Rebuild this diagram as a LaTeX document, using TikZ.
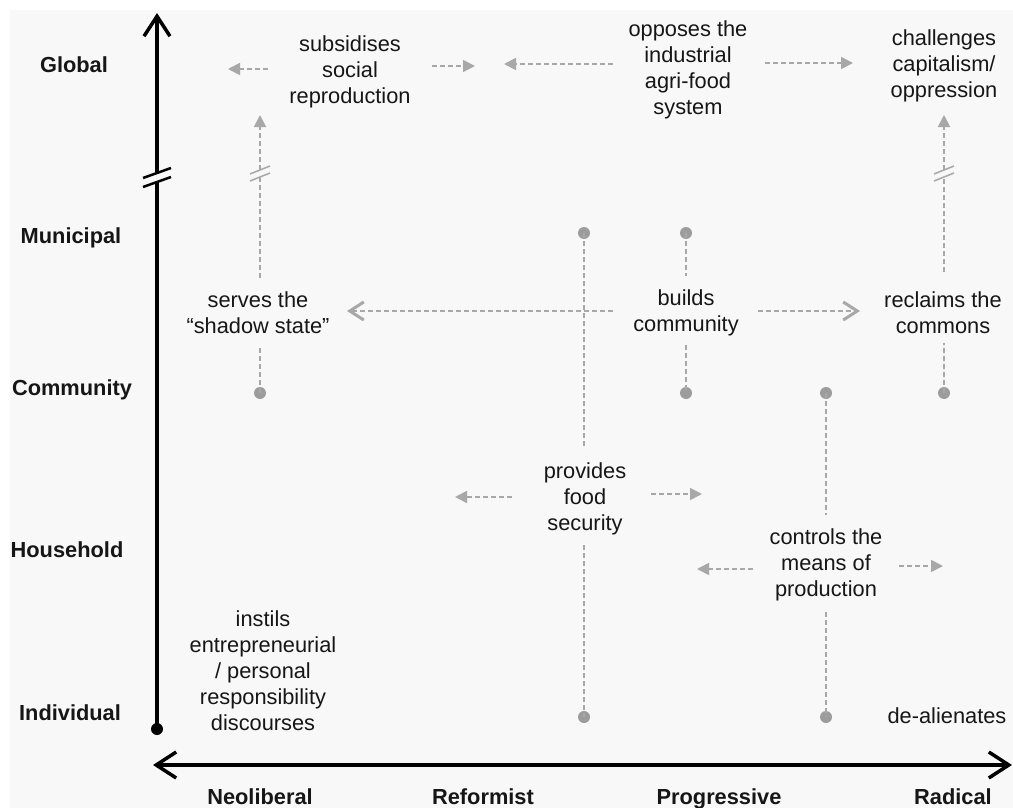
\documentclass[tikz,border=0pt]{standalone}
\usepackage{fontspec}
\setmainfont{Liberation Sans}
\usetikzlibrary{arrows.meta}
\definecolor{bg}{HTML}{F8F8F8}
\definecolor{lgray}{HTML}{A8A8A8}
\definecolor{dotgray}{HTML}{9C9C9C}
\definecolor{txt}{HTML}{161616}
\begin{document}
\begin{tikzpicture}[x=1pt,y=-1pt,
  lbl/.style={font=\fontsize{21.8}{26}\selectfont, text=txt, align=center, inner sep=0pt},
  axlbl/.style={font=\fontsize{21.8}{26}\selectfont\bfseries, text=txt, inner sep=0pt, anchor=base},
  conn/.style={draw=lgray, line width=1.8pt, dash pattern=on 5pt off 3pt},
  tri/.style={conn, -{Triangle[length=12pt,width=12pt]}},
  chev/.style={conn, -{Straight Barb[length=14pt,width=18pt,line width=3pt]}},
  brk/.style={draw=lgray, line width=1.5pt},
  dot/.style={circle, fill=dotgray, inner sep=0pt, minimum size=12pt},
  axis/.style={draw=black, line width=4pt},
  uparr/.style={axis, -{Straight Barb[length=20pt,width=26pt,line width=3.5pt]}},
  bothar/.style={axis, {Straight Barb[length=20pt,width=26pt,line width=3.5pt]}-{Straight Barb[length=20pt,width=26pt,line width=3.5pt]}},
]
\useasboundingbox (0,0) rectangle (1013,808);
\fill[white] (0,0) rectangle (1013,808);
\fill[bg] (10,10) rectangle (1013,808);

% axes
\node[circle, fill=black, inner sep=0pt, minimum size=12pt] (ax0) at (157,729) {};
\coordinate (axb1) at (157,182);
\coordinate (axb2) at (157,173);
\coordinate (axtop) at (157,13);
\draw[axis] (ax0.center) -- (axb1);
\draw[uparr] (axb2) -- (axtop);
\draw[draw=black, line width=2.5pt] (143,187) -- (171,177);
\draw[draw=black, line width=2.5pt] (143,178) -- (171,168);
\coordinate (hxl) at (153,765);
\coordinate (hxr) at (1012,765);
\draw[bothar] (hxl) -- (hxr);

% axis labels
\node[axlbl] (global) at (74,73) {Global};
\node[axlbl] (municipal) at (71,243) {Municipal};
\node[axlbl] (community) at (72,395) {Community};
\node[axlbl] (household) at (67,557) {Household};
\node[axlbl] (individual) at (70,720) {Individual};
\node[axlbl] (neolib) at (260,804) {Neoliberal};
\node[axlbl] (reform) at (483,804) {Reformist};
\node[axlbl] (progr) at (719,804) {Progressive};
\node[axlbl] (radical) at (953,804) {Radical};

% text nodes
\node[lbl] (subs) at (350,72) {subsidises\\social\\reproduction};
\node[lbl] (opp) at (688,70) {opposes the\\industrial\\agri-food\\system};
\node[lbl] (chal) at (944,66) {challenges\\capitalism/\\oppression};
\node[lbl] (serves) at (258,313) {serves the\\``shadow state''};
\node[lbl] (builds) at (686,313) {builds\\community};
\node[lbl] (reclaims) at (943,313) {reclaims the\\commons};
\node[lbl] (provides) at (585,499) {provides\\food\\security};
\node[lbl] (controls) at (826,565) {controls the\\means of\\production};
\node[lbl] (instils) at (263,671) {instils\\entrepreneurial\\/ personal\\responsibility\\discourses};
\node[lbl] (dealien) at (947,716) {de-alienates};

% top row arrows
\coordinate (s1a) at (268,69); \coordinate (s1b) at (228,69);
\coordinate (s2a) at (432,66); \coordinate (s2b) at (475,66);
\coordinate (o1a) at (613,64); \coordinate (o1b) at (504,64);
\coordinate (o2a) at (765,63); \coordinate (o2b) at (853,63);
\draw[tri] (s1a) -- (s1b);
\draw[tri] (s2a) -- (s2b);
\draw[tri] (o1a) -- (o1b);
\draw[tri] (o2a) -- (o2b);

% dots
\node[dot] (dS) at (260,393) {};
\node[dot] (dR) at (944,393) {};
\node[dot] (dB1) at (686,233) {};
\node[dot] (dB2) at (686,393) {};
\node[dot] (dP1) at (584,233) {};
\node[dot] (dP2) at (584,717) {};
\node[dot] (dC1) at (826,393) {};
\node[dot] (dC2) at (826,717) {};

% left vertical (serves)
\coordinate (sv1) at (260,347);
\coordinate (sv2) at (260,278);
\coordinate (sv3) at (260,177);
\coordinate (sv4) at (260,170);
\coordinate (sv5) at (260,115);
\draw[conn] (dS.center) -- (sv1);
\draw[conn] (sv2) -- (sv3);
\draw[tri] (sv4) -- (sv5);
\draw[brk] (250,181) -- (270,173);
\draw[brk] (250,174) -- (270,166);

% right vertical (reclaims)
\coordinate (rv1) at (944,343);
\coordinate (rv2) at (944,272);
\coordinate (rv3) at (944,177);
\coordinate (rv4) at (944,170);
\coordinate (rv5) at (944,115);
\draw[conn] (dR.center) -- (rv1);
\draw[conn] (rv2) -- (rv3);
\draw[tri] (rv4) -- (rv5);
\draw[brk] (934,181) -- (954,173);
\draw[brk] (934,174) -- (954,166);

% builds community verticals
\coordinate (bv1) at (686,276);
\coordinate (bv2) at (686,345);
\draw[conn] (dB1.center) -- (bv1);
\draw[conn] (bv2) -- (dB2.center);

% provides food security verticals
\coordinate (pv1) at (584,447);
\coordinate (pv2) at (584,545);
\draw[conn] (dP1.center) -- (pv1);
\draw[conn] (pv2) -- (dP2.center);

% middle horizontals
\coordinate (mh1) at (613,311);
\coordinate (mh2) at (347,311);
\coordinate (mh3) at (758,311);
\coordinate (mh4) at (860,311);
\draw[chev] (mh1) -- (mh2);
\draw[chev] (mh3) -- (mh4);

% controls verticals
\coordinate (cv1) at (826,515);
\coordinate (cv2) at (826,612);
\draw[conn] (dC1.center) -- (cv1);
\draw[conn] (cv2) -- (dC2.center);

% controls horizontals
\coordinate (ch1) at (753,569); \coordinate (ch2) at (697,569);
\coordinate (ch3) at (899,566); \coordinate (ch4) at (943,566);
\draw[tri] (ch1) -- (ch2);
\draw[tri] (ch3) -- (ch4);

% provides horizontals
\coordinate (ph1) at (512,497); \coordinate (ph2) at (455,497);
\coordinate (ph3) at (651,494); \coordinate (ph4) at (702,494);
\draw[tri] (ph1) -- (ph2);
\draw[tri] (ph3) -- (ph4);

\end{tikzpicture}
\end{document}
